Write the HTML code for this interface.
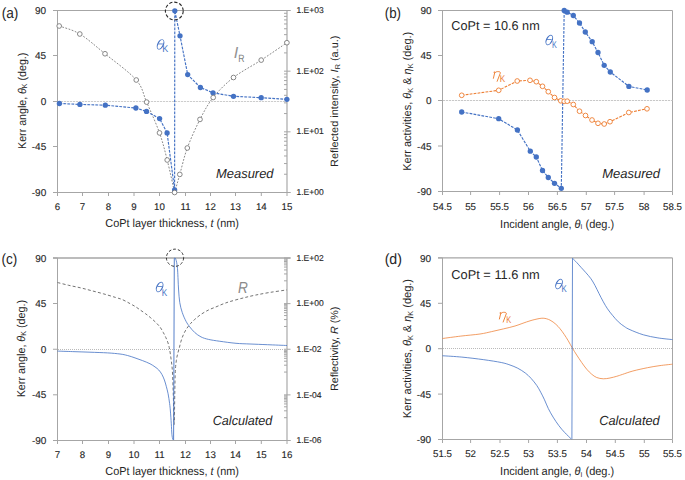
<!DOCTYPE html>
<html><head><meta charset="utf-8"><style>
html,body{margin:0;padding:0;background:#fff;}
svg{display:block;}
text{font-family:"Liberation Sans", sans-serif;text-rendering:geometricPrecision;}
</style></head><body>
<svg width="685" height="480" viewBox="0 0 685 480">
<rect width="685" height="480" fill="#fff"/>
<line x1="53.0" y1="10.5" x2="290.5" y2="10.5" stroke="#a6a6a6" stroke-width="1.0" />
<line x1="57.5" y1="10.5" x2="57.5" y2="192.5" stroke="#a6a6a6" stroke-width="1" />
<line x1="53.0" y1="10.5" x2="57.5" y2="10.5" stroke="#a6a6a6" stroke-width="1" />
<line x1="53.0" y1="55.5" x2="57.5" y2="55.5" stroke="#a6a6a6" stroke-width="1" />
<line x1="53.0" y1="101.5" x2="57.5" y2="101.5" stroke="#a6a6a6" stroke-width="1" />
<line x1="53.0" y1="146.5" x2="57.5" y2="146.5" stroke="#a6a6a6" stroke-width="1" />
<line x1="53.0" y1="192.5" x2="57.5" y2="192.5" stroke="#a6a6a6" stroke-width="1" />
<line x1="53.0" y1="192.5" x2="290.5" y2="192.5" stroke="#a6a6a6" stroke-width="1" />
<line x1="57.5" y1="192.5" x2="57.5" y2="196.0" stroke="#a6a6a6" stroke-width="1" />
<line x1="82.5" y1="192.5" x2="82.5" y2="196.0" stroke="#a6a6a6" stroke-width="1" />
<line x1="108.5" y1="192.5" x2="108.5" y2="196.0" stroke="#a6a6a6" stroke-width="1" />
<line x1="134.0" y1="192.5" x2="134.0" y2="196.0" stroke="#a6a6a6" stroke-width="1" />
<line x1="159.5" y1="192.5" x2="159.5" y2="196.0" stroke="#a6a6a6" stroke-width="1" />
<line x1="185.5" y1="192.5" x2="185.5" y2="196.0" stroke="#a6a6a6" stroke-width="1" />
<line x1="210.5" y1="192.5" x2="210.5" y2="196.0" stroke="#a6a6a6" stroke-width="1" />
<line x1="235.5" y1="192.5" x2="235.5" y2="196.0" stroke="#a6a6a6" stroke-width="1" />
<line x1="261.3" y1="192.5" x2="261.3" y2="196.0" stroke="#a6a6a6" stroke-width="1" />
<line x1="287.0" y1="192.5" x2="287.0" y2="196.0" stroke="#a6a6a6" stroke-width="1" />
<line x1="287.0" y1="10.5" x2="287.0" y2="192.5" stroke="#a6a6a6" stroke-width="1.15" />
<line x1="284.0" y1="174.23751359638516" x2="287.0" y2="174.23751359638516" stroke="#a6a6a6" stroke-width="1" />
<line x1="284.0" y1="163.55464388034048" x2="287.0" y2="163.55464388034048" stroke="#a6a6a6" stroke-width="1" />
<line x1="284.0" y1="155.97502719277028" x2="287.0" y2="155.97502719277028" stroke="#a6a6a6" stroke-width="1" />
<line x1="284.0" y1="150.0958197369482" x2="287.0" y2="150.0958197369482" stroke="#a6a6a6" stroke-width="1" />
<line x1="284.0" y1="145.2921574767256" x2="287.0" y2="145.2921574767256" stroke="#a6a6a6" stroke-width="1" />
<line x1="284.0" y1="141.23071890580175" x2="287.0" y2="141.23071890580175" stroke="#a6a6a6" stroke-width="1" />
<line x1="284.0" y1="137.7125407891554" x2="287.0" y2="137.7125407891554" stroke="#a6a6a6" stroke-width="1" />
<line x1="284.0" y1="134.60928776068096" x2="287.0" y2="134.60928776068096" stroke="#a6a6a6" stroke-width="1" />
<line x1="284.0" y1="113.57084692971848" x2="287.0" y2="113.57084692971848" stroke="#a6a6a6" stroke-width="1" />
<line x1="284.0" y1="102.88797721367382" x2="287.0" y2="102.88797721367382" stroke="#a6a6a6" stroke-width="1" />
<line x1="284.0" y1="95.30836052610363" x2="287.0" y2="95.30836052610363" stroke="#a6a6a6" stroke-width="1" />
<line x1="284.0" y1="89.42915307028153" x2="287.0" y2="89.42915307028153" stroke="#a6a6a6" stroke-width="1" />
<line x1="284.0" y1="84.62549081005896" x2="287.0" y2="84.62549081005896" stroke="#a6a6a6" stroke-width="1" />
<line x1="284.0" y1="80.5640522391351" x2="287.0" y2="80.5640522391351" stroke="#a6a6a6" stroke-width="1" />
<line x1="284.0" y1="77.04587412248877" x2="287.0" y2="77.04587412248877" stroke="#a6a6a6" stroke-width="1" />
<line x1="284.0" y1="73.9426210940143" x2="287.0" y2="73.9426210940143" stroke="#a6a6a6" stroke-width="1" />
<line x1="284.0" y1="52.90418026305181" x2="287.0" y2="52.90418026305181" stroke="#a6a6a6" stroke-width="1" />
<line x1="284.0" y1="42.22131054700715" x2="287.0" y2="42.22131054700715" stroke="#a6a6a6" stroke-width="1" />
<line x1="284.0" y1="34.641693859436955" x2="287.0" y2="34.641693859436955" stroke="#a6a6a6" stroke-width="1" />
<line x1="284.0" y1="28.762486403614865" x2="287.0" y2="28.762486403614865" stroke="#a6a6a6" stroke-width="1" />
<line x1="284.0" y1="23.95882414339229" x2="287.0" y2="23.95882414339229" stroke="#a6a6a6" stroke-width="1" />
<line x1="284.0" y1="19.89738557246843" x2="287.0" y2="19.89738557246843" stroke="#a6a6a6" stroke-width="1" />
<line x1="284.0" y1="16.379207455822097" x2="287.0" y2="16.379207455822097" stroke="#a6a6a6" stroke-width="1" />
<line x1="284.0" y1="13.275954427347628" x2="287.0" y2="13.275954427347628" stroke="#a6a6a6" stroke-width="1" />
<line x1="284.0" y1="192.5" x2="290.5" y2="192.5" stroke="#a6a6a6" stroke-width="1" />
<line x1="284.0" y1="131.83333333333334" x2="290.5" y2="131.83333333333334" stroke="#a6a6a6" stroke-width="1" />
<line x1="284.0" y1="71.16666666666667" x2="290.5" y2="71.16666666666667" stroke="#a6a6a6" stroke-width="1" />
<line x1="284.0" y1="10.5" x2="290.5" y2="10.5" stroke="#a6a6a6" stroke-width="1" />
<line x1="58" y1="101.5" x2="287.0" y2="101.5" stroke="#cdcdcd" stroke-width="1" stroke-dasharray="2.2 0.8"/>
<path d="M59.20,26.00 C62.63,27.33 72.17,29.38 79.80,34.00 C87.43,38.62 95.59,46.08 105.00,53.75 C114.41,61.42 129.32,71.94 136.25,80.00 C143.18,88.06 142.72,93.28 146.60,102.10 C150.47,110.92 156.07,123.25 159.50,132.90 C162.93,142.55 164.68,150.07 167.20,160.00 C169.72,169.93 173.37,187.08 174.60,192.50" fill="none" stroke="#6a6a6a" stroke-width="0.8" stroke-dasharray="1.8 1.5" stroke-linejoin="round" />
<path d="M174.60,192.50 C175.47,189.48 177.68,181.82 179.80,174.40 C181.92,166.98 183.93,157.17 187.30,148.00 C190.67,138.83 195.68,127.82 200.00,119.40 C204.32,110.98 207.62,104.48 213.20,97.50 C218.78,90.52 225.50,83.73 233.50,77.50 C241.50,71.27 252.30,65.90 261.20,60.10 C270.10,54.30 282.62,45.60 286.90,42.70" fill="none" stroke="#6a6a6a" stroke-width="0.8" stroke-dasharray="1.8 1.5" stroke-linejoin="round" />
<polyline points="59.40,103.50 79.90,104.40 105.30,105.20 135.90,108.00 146.50,111.40 159.60,118.60 167.10,132.90 174.60,189.90 174.80,10.80 180.00,35.80 187.70,74.60 200.40,87.50 213.00,92.80 233.50,96.30 261.20,97.70 286.90,99.30" fill="none" stroke="#4472C4" stroke-width="1.15" stroke-dasharray="2.8 1.2" stroke-linejoin="round" />
<circle cx="59.40" cy="103.50" r="2.65" fill="#4472C4"/>
<circle cx="79.90" cy="104.40" r="2.65" fill="#4472C4"/>
<circle cx="105.30" cy="105.20" r="2.65" fill="#4472C4"/>
<circle cx="135.90" cy="108.00" r="2.65" fill="#4472C4"/>
<circle cx="146.50" cy="111.40" r="2.65" fill="#4472C4"/>
<circle cx="159.60" cy="118.60" r="2.65" fill="#4472C4"/>
<circle cx="167.10" cy="132.90" r="2.65" fill="#4472C4"/>
<circle cx="174.60" cy="189.90" r="2.65" fill="#4472C4"/>
<circle cx="174.80" cy="10.80" r="2.65" fill="#4472C4"/>
<circle cx="180.00" cy="35.80" r="2.65" fill="#4472C4"/>
<circle cx="187.70" cy="74.60" r="2.65" fill="#4472C4"/>
<circle cx="200.40" cy="87.50" r="2.65" fill="#4472C4"/>
<circle cx="213.00" cy="92.80" r="2.65" fill="#4472C4"/>
<circle cx="233.50" cy="96.30" r="2.65" fill="#4472C4"/>
<circle cx="261.20" cy="97.70" r="2.65" fill="#4472C4"/>
<circle cx="286.90" cy="99.30" r="2.65" fill="#4472C4"/>
<circle cx="59.20" cy="26.00" r="2.35" fill="#fff" stroke="#7a7a7a" stroke-width="0.9"/>
<circle cx="79.80" cy="34.00" r="2.35" fill="#fff" stroke="#7a7a7a" stroke-width="0.9"/>
<circle cx="105.00" cy="53.75" r="2.35" fill="#fff" stroke="#7a7a7a" stroke-width="0.9"/>
<circle cx="136.25" cy="80.00" r="2.35" fill="#fff" stroke="#7a7a7a" stroke-width="0.9"/>
<circle cx="146.60" cy="102.10" r="2.35" fill="#fff" stroke="#7a7a7a" stroke-width="0.9"/>
<circle cx="159.50" cy="132.90" r="2.35" fill="#fff" stroke="#7a7a7a" stroke-width="0.9"/>
<circle cx="167.20" cy="160.00" r="2.35" fill="#fff" stroke="#7a7a7a" stroke-width="0.9"/>
<circle cx="174.60" cy="192.50" r="2.35" fill="#fff" stroke="#7a7a7a" stroke-width="0.9"/>
<circle cx="179.80" cy="174.40" r="2.35" fill="#fff" stroke="#7a7a7a" stroke-width="0.9"/>
<circle cx="187.30" cy="148.00" r="2.35" fill="#fff" stroke="#7a7a7a" stroke-width="0.9"/>
<circle cx="200.00" cy="119.40" r="2.35" fill="#fff" stroke="#7a7a7a" stroke-width="0.9"/>
<circle cx="213.20" cy="97.50" r="2.35" fill="#fff" stroke="#7a7a7a" stroke-width="0.9"/>
<circle cx="233.50" cy="77.50" r="2.35" fill="#fff" stroke="#7a7a7a" stroke-width="0.9"/>
<circle cx="261.20" cy="60.10" r="2.35" fill="#fff" stroke="#7a7a7a" stroke-width="0.9"/>
<circle cx="286.90" cy="42.70" r="2.35" fill="#fff" stroke="#7a7a7a" stroke-width="0.9"/>
<circle cx="174.3" cy="11" r="8.9" fill="none" stroke="#2a2a2a" stroke-width="1.1" stroke-dasharray="3.3 1.9"/>
<line x1="438.0" y1="10.5" x2="672.5" y2="10.5" stroke="#a6a6a6" stroke-width="1.0" />
<line x1="442.5" y1="10.5" x2="442.5" y2="191.5" stroke="#a6a6a6" stroke-width="1" />
<line x1="438.0" y1="10.5" x2="442.5" y2="10.5" stroke="#a6a6a6" stroke-width="1" />
<line x1="438.0" y1="55.5" x2="442.5" y2="55.5" stroke="#a6a6a6" stroke-width="1" />
<line x1="438.0" y1="100.5" x2="442.5" y2="100.5" stroke="#a6a6a6" stroke-width="1" />
<line x1="438.0" y1="146" x2="442.5" y2="146" stroke="#a6a6a6" stroke-width="1" />
<line x1="438.0" y1="191.5" x2="442.5" y2="191.5" stroke="#a6a6a6" stroke-width="1" />
<line x1="438.0" y1="191.5" x2="672.5" y2="191.5" stroke="#a6a6a6" stroke-width="1" />
<line x1="442.5" y1="191.5" x2="442.5" y2="195.0" stroke="#a6a6a6" stroke-width="1" />
<line x1="470.6" y1="191.5" x2="470.6" y2="195.0" stroke="#a6a6a6" stroke-width="1" />
<line x1="499.6" y1="191.5" x2="499.6" y2="195.0" stroke="#a6a6a6" stroke-width="1" />
<line x1="528.5" y1="191.5" x2="528.5" y2="195.0" stroke="#a6a6a6" stroke-width="1" />
<line x1="557.4" y1="191.5" x2="557.4" y2="195.0" stroke="#a6a6a6" stroke-width="1" />
<line x1="586.3" y1="191.5" x2="586.3" y2="195.0" stroke="#a6a6a6" stroke-width="1" />
<line x1="614.6" y1="191.5" x2="614.6" y2="195.0" stroke="#a6a6a6" stroke-width="1" />
<line x1="644.1" y1="191.5" x2="644.1" y2="195.0" stroke="#a6a6a6" stroke-width="1" />
<line x1="672.5" y1="191.5" x2="672.5" y2="195.0" stroke="#a6a6a6" stroke-width="1" />
<line x1="672.5" y1="10.5" x2="672.5" y2="191.5" stroke="#a6a6a6" stroke-width="1.0" />
<line x1="443" y1="100.5" x2="672.5" y2="100.5" stroke="#c8c8c8" stroke-width="1" stroke-dasharray="2.2 0.8"/>
<polyline points="461.70,95.30 498.70,90.30 517.20,81.00 530.00,80.30 536.30,81.70 542.50,86.30 548.30,91.70 554.50,97.50 560.80,100.80 564.20,101.30 567.20,101.20 573.30,104.50 579.50,111.20 585.50,115.50 592.00,120.00 598.00,123.30 604.20,124.00 610.00,121.70 628.80,112.50 647.00,108.80" fill="none" stroke="#ED7D31" stroke-width="1.05" stroke-dasharray="2.8 1.2" stroke-linejoin="round" />
<polyline points="461.70,112.00 498.70,118.70 517.40,130.00 530.30,151.20 536.30,157.00 542.50,170.50 548.30,177.50 554.50,183.30 561.30,188.30 564.20,10.50 567.20,12.20 573.30,15.50 579.50,23.00 585.30,32.00 592.20,41.70 598.00,52.50 604.20,65.30 610.30,72.00 628.90,86.40 647.20,90.00" fill="none" stroke="#4472C4" stroke-width="1.15" stroke-dasharray="2.8 1.2" stroke-linejoin="round" />
<circle cx="461.70" cy="95.30" r="2.35" fill="#fff" stroke="#ED7D31" stroke-width="0.9"/>
<circle cx="498.70" cy="90.30" r="2.35" fill="#fff" stroke="#ED7D31" stroke-width="0.9"/>
<circle cx="517.20" cy="81.00" r="2.35" fill="#fff" stroke="#ED7D31" stroke-width="0.9"/>
<circle cx="530.00" cy="80.30" r="2.35" fill="#fff" stroke="#ED7D31" stroke-width="0.9"/>
<circle cx="536.30" cy="81.70" r="2.35" fill="#fff" stroke="#ED7D31" stroke-width="0.9"/>
<circle cx="542.50" cy="86.30" r="2.35" fill="#fff" stroke="#ED7D31" stroke-width="0.9"/>
<circle cx="548.30" cy="91.70" r="2.35" fill="#fff" stroke="#ED7D31" stroke-width="0.9"/>
<circle cx="554.50" cy="97.50" r="2.35" fill="#fff" stroke="#ED7D31" stroke-width="0.9"/>
<circle cx="560.80" cy="100.80" r="2.35" fill="#fff" stroke="#ED7D31" stroke-width="0.9"/>
<circle cx="564.20" cy="101.30" r="2.35" fill="#fff" stroke="#ED7D31" stroke-width="0.9"/>
<circle cx="567.20" cy="101.20" r="2.35" fill="#fff" stroke="#ED7D31" stroke-width="0.9"/>
<circle cx="573.30" cy="104.50" r="2.35" fill="#fff" stroke="#ED7D31" stroke-width="0.9"/>
<circle cx="579.50" cy="111.20" r="2.35" fill="#fff" stroke="#ED7D31" stroke-width="0.9"/>
<circle cx="585.50" cy="115.50" r="2.35" fill="#fff" stroke="#ED7D31" stroke-width="0.9"/>
<circle cx="592.00" cy="120.00" r="2.35" fill="#fff" stroke="#ED7D31" stroke-width="0.9"/>
<circle cx="598.00" cy="123.30" r="2.35" fill="#fff" stroke="#ED7D31" stroke-width="0.9"/>
<circle cx="604.20" cy="124.00" r="2.35" fill="#fff" stroke="#ED7D31" stroke-width="0.9"/>
<circle cx="610.00" cy="121.70" r="2.35" fill="#fff" stroke="#ED7D31" stroke-width="0.9"/>
<circle cx="628.80" cy="112.50" r="2.35" fill="#fff" stroke="#ED7D31" stroke-width="0.9"/>
<circle cx="647.00" cy="108.80" r="2.35" fill="#fff" stroke="#ED7D31" stroke-width="0.9"/>
<circle cx="461.70" cy="112.00" r="2.65" fill="#4472C4"/>
<circle cx="498.70" cy="118.70" r="2.65" fill="#4472C4"/>
<circle cx="517.40" cy="130.00" r="2.65" fill="#4472C4"/>
<circle cx="530.30" cy="151.20" r="2.65" fill="#4472C4"/>
<circle cx="536.30" cy="157.00" r="2.65" fill="#4472C4"/>
<circle cx="542.50" cy="170.50" r="2.65" fill="#4472C4"/>
<circle cx="548.30" cy="177.50" r="2.65" fill="#4472C4"/>
<circle cx="554.50" cy="183.30" r="2.65" fill="#4472C4"/>
<circle cx="561.30" cy="188.30" r="2.65" fill="#4472C4"/>
<circle cx="564.20" cy="10.50" r="2.65" fill="#4472C4"/>
<circle cx="567.20" cy="12.20" r="2.65" fill="#4472C4"/>
<circle cx="573.30" cy="15.50" r="2.65" fill="#4472C4"/>
<circle cx="579.50" cy="23.00" r="2.65" fill="#4472C4"/>
<circle cx="585.30" cy="32.00" r="2.65" fill="#4472C4"/>
<circle cx="592.20" cy="41.70" r="2.65" fill="#4472C4"/>
<circle cx="598.00" cy="52.50" r="2.65" fill="#4472C4"/>
<circle cx="604.20" cy="65.30" r="2.65" fill="#4472C4"/>
<circle cx="610.30" cy="72.00" r="2.65" fill="#4472C4"/>
<circle cx="628.90" cy="86.40" r="2.65" fill="#4472C4"/>
<circle cx="647.20" cy="90.00" r="2.65" fill="#4472C4"/>
<line x1="53.0" y1="258.0" x2="290.5" y2="258.0" stroke="#a6a6a6" stroke-width="1.3" />
<line x1="57.5" y1="258.0" x2="57.5" y2="440.5" stroke="#a6a6a6" stroke-width="1" />
<line x1="53.0" y1="258.0" x2="57.5" y2="258.0" stroke="#a6a6a6" stroke-width="1" />
<line x1="53.0" y1="303.5" x2="57.5" y2="303.5" stroke="#a6a6a6" stroke-width="1" />
<line x1="53.0" y1="349.25" x2="57.5" y2="349.25" stroke="#a6a6a6" stroke-width="1" />
<line x1="53.0" y1="394.8" x2="57.5" y2="394.8" stroke="#a6a6a6" stroke-width="1" />
<line x1="53.0" y1="440.5" x2="57.5" y2="440.5" stroke="#a6a6a6" stroke-width="1" />
<line x1="53.0" y1="440.5" x2="290.5" y2="440.5" stroke="#a6a6a6" stroke-width="1" />
<line x1="57.5" y1="440.5" x2="57.5" y2="444.0" stroke="#a6a6a6" stroke-width="1" />
<line x1="82.5" y1="440.5" x2="82.5" y2="444.0" stroke="#a6a6a6" stroke-width="1" />
<line x1="108.5" y1="440.5" x2="108.5" y2="444.0" stroke="#a6a6a6" stroke-width="1" />
<line x1="134.0" y1="440.5" x2="134.0" y2="444.0" stroke="#a6a6a6" stroke-width="1" />
<line x1="159.5" y1="440.5" x2="159.5" y2="444.0" stroke="#a6a6a6" stroke-width="1" />
<line x1="185.5" y1="440.5" x2="185.5" y2="444.0" stroke="#a6a6a6" stroke-width="1" />
<line x1="210.5" y1="440.5" x2="210.5" y2="444.0" stroke="#a6a6a6" stroke-width="1" />
<line x1="235.5" y1="440.5" x2="235.5" y2="444.0" stroke="#a6a6a6" stroke-width="1" />
<line x1="261.3" y1="440.5" x2="261.3" y2="444.0" stroke="#a6a6a6" stroke-width="1" />
<line x1="287.0" y1="440.5" x2="287.0" y2="444.0" stroke="#a6a6a6" stroke-width="1" />
<line x1="287.0" y1="258.0" x2="287.0" y2="440.5" stroke="#a6a6a6" stroke-width="1.15" />
<line x1="284.0" y1="417.6875" x2="287.0" y2="417.6875" stroke="#a6a6a6" stroke-width="1" />
<line x1="284.0" y1="410.8202532239154" x2="287.0" y2="410.8202532239154" stroke="#a6a6a6" stroke-width="1" />
<line x1="284.0" y1="406.8031713767077" x2="287.0" y2="406.8031713767077" stroke="#a6a6a6" stroke-width="1" />
<line x1="284.0" y1="403.95300644783083" x2="287.0" y2="403.95300644783083" stroke="#a6a6a6" stroke-width="1" />
<line x1="284.0" y1="401.7422467760846" x2="287.0" y2="401.7422467760846" stroke="#a6a6a6" stroke-width="1" />
<line x1="284.0" y1="399.93592460062314" x2="287.0" y2="399.93592460062314" stroke="#a6a6a6" stroke-width="1" />
<line x1="284.0" y1="398.40870096217475" x2="287.0" y2="398.40870096217475" stroke="#a6a6a6" stroke-width="1" />
<line x1="284.0" y1="397.0857596717463" x2="287.0" y2="397.0857596717463" stroke="#a6a6a6" stroke-width="1" />
<line x1="284.0" y1="395.9188427534154" x2="287.0" y2="395.9188427534154" stroke="#a6a6a6" stroke-width="1" />
<line x1="284.0" y1="372.0625" x2="287.0" y2="372.0625" stroke="#a6a6a6" stroke-width="1" />
<line x1="284.0" y1="365.1952532239154" x2="287.0" y2="365.1952532239154" stroke="#a6a6a6" stroke-width="1" />
<line x1="284.0" y1="361.1781713767077" x2="287.0" y2="361.1781713767077" stroke="#a6a6a6" stroke-width="1" />
<line x1="284.0" y1="358.32800644783083" x2="287.0" y2="358.32800644783083" stroke="#a6a6a6" stroke-width="1" />
<line x1="284.0" y1="356.1172467760846" x2="287.0" y2="356.1172467760846" stroke="#a6a6a6" stroke-width="1" />
<line x1="284.0" y1="354.31092460062314" x2="287.0" y2="354.31092460062314" stroke="#a6a6a6" stroke-width="1" />
<line x1="284.0" y1="352.78370096217475" x2="287.0" y2="352.78370096217475" stroke="#a6a6a6" stroke-width="1" />
<line x1="284.0" y1="351.4607596717463" x2="287.0" y2="351.4607596717463" stroke="#a6a6a6" stroke-width="1" />
<line x1="284.0" y1="350.2938427534154" x2="287.0" y2="350.2938427534154" stroke="#a6a6a6" stroke-width="1" />
<line x1="284.0" y1="326.4375" x2="287.0" y2="326.4375" stroke="#a6a6a6" stroke-width="1" />
<line x1="284.0" y1="319.5702532239154" x2="287.0" y2="319.5702532239154" stroke="#a6a6a6" stroke-width="1" />
<line x1="284.0" y1="315.5531713767077" x2="287.0" y2="315.5531713767077" stroke="#a6a6a6" stroke-width="1" />
<line x1="284.0" y1="312.70300644783083" x2="287.0" y2="312.70300644783083" stroke="#a6a6a6" stroke-width="1" />
<line x1="284.0" y1="310.4922467760846" x2="287.0" y2="310.4922467760846" stroke="#a6a6a6" stroke-width="1" />
<line x1="284.0" y1="308.68592460062314" x2="287.0" y2="308.68592460062314" stroke="#a6a6a6" stroke-width="1" />
<line x1="284.0" y1="307.15870096217475" x2="287.0" y2="307.15870096217475" stroke="#a6a6a6" stroke-width="1" />
<line x1="284.0" y1="305.8357596717463" x2="287.0" y2="305.8357596717463" stroke="#a6a6a6" stroke-width="1" />
<line x1="284.0" y1="304.6688427534154" x2="287.0" y2="304.6688427534154" stroke="#a6a6a6" stroke-width="1" />
<line x1="284.0" y1="280.8125" x2="287.0" y2="280.8125" stroke="#a6a6a6" stroke-width="1" />
<line x1="284.0" y1="273.9452532239154" x2="287.0" y2="273.9452532239154" stroke="#a6a6a6" stroke-width="1" />
<line x1="284.0" y1="269.9281713767077" x2="287.0" y2="269.9281713767077" stroke="#a6a6a6" stroke-width="1" />
<line x1="284.0" y1="267.07800644783083" x2="287.0" y2="267.07800644783083" stroke="#a6a6a6" stroke-width="1" />
<line x1="284.0" y1="264.8672467760846" x2="287.0" y2="264.8672467760846" stroke="#a6a6a6" stroke-width="1" />
<line x1="284.0" y1="263.06092460062314" x2="287.0" y2="263.06092460062314" stroke="#a6a6a6" stroke-width="1" />
<line x1="284.0" y1="261.53370096217475" x2="287.0" y2="261.53370096217475" stroke="#a6a6a6" stroke-width="1" />
<line x1="284.0" y1="260.2107596717463" x2="287.0" y2="260.2107596717463" stroke="#a6a6a6" stroke-width="1" />
<line x1="284.0" y1="259.0438427534154" x2="287.0" y2="259.0438427534154" stroke="#a6a6a6" stroke-width="1" />
<line x1="284.0" y1="440.5" x2="290.5" y2="440.5" stroke="#a6a6a6" stroke-width="1" />
<line x1="284.0" y1="394.875" x2="290.5" y2="394.875" stroke="#a6a6a6" stroke-width="1" />
<line x1="284.0" y1="349.25" x2="290.5" y2="349.25" stroke="#a6a6a6" stroke-width="1" />
<line x1="284.0" y1="303.625" x2="290.5" y2="303.625" stroke="#a6a6a6" stroke-width="1" />
<line x1="284.0" y1="258.0" x2="290.5" y2="258.0" stroke="#a6a6a6" stroke-width="1" />
<line x1="58" y1="349.5" x2="287.0" y2="349.5" stroke="#bababa" stroke-width="1" stroke-dasharray="1 1"/>
<path d="M57.50,282.50 C59.37,282.97 64.88,284.42 68.70,285.30 C72.52,286.18 76.52,286.88 80.40,287.80 C84.28,288.72 88.12,289.78 92.00,290.80 C95.88,291.82 99.80,292.80 103.70,293.90 C107.60,295.00 112.28,296.45 115.40,297.40 C118.52,298.35 119.97,298.57 122.40,299.60 C124.83,300.63 127.87,302.45 130.00,303.60 C132.13,304.75 133.47,305.42 135.20,306.50 C136.93,307.58 138.67,308.89 140.40,310.10 C142.13,311.31 143.87,312.45 145.60,313.75 C147.33,315.05 149.07,316.42 150.80,317.90 C152.53,319.38 154.43,321.03 156.00,322.60 C157.57,324.17 158.98,325.65 160.20,327.30 C161.42,328.95 162.35,330.77 163.30,332.50 C164.25,334.23 165.12,335.97 165.90,337.70 C166.68,339.43 167.38,340.95 168.00,342.90 C168.62,344.85 169.05,346.42 169.60,349.40 C170.15,352.38 170.83,357.16 171.30,360.80 C171.77,364.44 172.08,366.05 172.40,371.25 C172.72,376.45 172.97,385.04 173.20,392.00 C173.43,398.96 173.63,407.58 173.80,413.00 C173.97,418.42 174.08,424.50 174.20,424.50 C174.32,424.50 174.40,418.42 174.50,413.00 C174.60,407.58 174.67,398.96 174.80,392.00 C174.93,385.04 175.05,376.45 175.30,371.25 C175.55,366.05 175.92,363.68 176.30,360.80 C176.68,357.93 177.13,356.01 177.60,354.00 C178.07,351.99 178.53,350.88 179.10,348.75 C179.67,346.62 180.27,343.64 181.00,341.25 C181.73,338.86 182.57,336.48 183.50,334.40 C184.43,332.32 185.45,330.52 186.60,328.75 C187.75,326.98 189.04,325.31 190.40,323.75 C191.76,322.19 192.98,320.96 194.75,319.40 C196.52,317.84 198.71,315.97 201.00,314.40 C203.29,312.83 206.00,311.25 208.50,310.00 C211.00,308.75 213.50,307.94 216.00,306.90 C218.50,305.86 221.00,304.69 223.50,303.75 C226.00,302.81 227.75,302.21 231.00,301.25 C234.25,300.29 239.00,299.01 243.00,298.00 C247.00,296.99 250.50,296.13 255.00,295.20 C259.50,294.27 264.67,293.28 270.00,292.40 C275.33,291.52 284.17,290.32 287.00,289.90" fill="none" stroke="#737373" stroke-width="1.0" stroke-dasharray="3 2.2" stroke-linejoin="round" />
<path d="M57.50,351.10 C60.00,351.18 67.08,351.42 72.50,351.60 C77.92,351.78 84.15,351.98 90.00,352.20 C95.85,352.42 102.60,352.60 107.60,352.90 C112.60,353.20 116.68,353.57 120.00,354.00 C123.32,354.43 125.00,354.85 127.50,355.50 C130.00,356.15 132.50,357.05 135.00,357.90 C137.50,358.75 140.00,359.62 142.50,360.60 C145.00,361.58 147.92,362.70 150.00,363.75 C152.08,364.80 153.54,365.86 155.00,366.90 C156.46,367.94 157.60,368.75 158.75,370.00 C159.90,371.25 160.96,372.73 161.90,374.40 C162.84,376.07 163.68,378.02 164.40,380.00 C165.12,381.98 165.63,383.96 166.25,386.25 C166.87,388.54 167.54,390.88 168.10,393.75 C168.66,396.62 169.22,400.62 169.60,403.50 C169.98,406.38 170.12,407.62 170.40,411.00 C170.68,414.38 171.05,419.93 171.30,423.80 C171.55,427.67 171.67,431.57 171.90,434.20 C172.13,436.83 172.57,438.70 172.70,439.60" fill="none" stroke="#4472C4" stroke-width="0.8" stroke-linejoin="round" />
<line x1="173.6" y1="440.0" x2="174.3" y2="258.4" stroke="#4472C4" stroke-width="0.9" />
<path d="M174.30,258.40 C174.45,258.35 174.88,257.75 175.20,258.10 C175.52,258.45 175.90,259.43 176.20,260.50 C176.50,261.57 176.77,262.92 177.00,264.50 C177.23,266.08 177.42,267.42 177.60,270.00 C177.78,272.58 177.93,276.67 178.10,280.00 C178.27,283.33 178.32,286.25 178.60,290.00 C178.88,293.75 179.14,298.75 179.75,302.50 C180.36,306.25 181.21,309.38 182.25,312.50 C183.29,315.62 184.75,318.85 186.00,321.25 C187.25,323.65 188.29,325.02 189.75,326.90 C191.21,328.77 192.88,330.83 194.75,332.50 C196.62,334.17 198.71,335.75 201.00,336.90 C203.29,338.05 205.38,338.67 208.50,339.40 C211.62,340.12 215.17,340.60 219.75,341.25 C224.33,341.90 230.96,342.84 236.00,343.30 C241.04,343.76 244.75,343.77 250.00,344.00 C255.25,344.23 261.33,344.45 267.50,344.70 C273.67,344.95 283.75,345.37 287.00,345.50" fill="none" stroke="#4472C4" stroke-width="0.8" stroke-linejoin="round" />
<circle cx="175" cy="257.75" r="8.6" fill="none" stroke="#2a2a2a" stroke-width="0.95" stroke-dasharray="2.8 2"/>
<line x1="438.0" y1="257.9" x2="672.5" y2="257.9" stroke="#a6a6a6" stroke-width="1.3" />
<line x1="442.5" y1="257.9" x2="442.5" y2="439.5" stroke="#a6a6a6" stroke-width="1" />
<line x1="438.0" y1="257.9" x2="442.5" y2="257.9" stroke="#a6a6a6" stroke-width="1" />
<line x1="438.0" y1="303.3" x2="442.5" y2="303.3" stroke="#a6a6a6" stroke-width="1" />
<line x1="438.0" y1="348.7" x2="442.5" y2="348.7" stroke="#a6a6a6" stroke-width="1" />
<line x1="438.0" y1="394.1" x2="442.5" y2="394.1" stroke="#a6a6a6" stroke-width="1" />
<line x1="438.0" y1="439.5" x2="442.5" y2="439.5" stroke="#a6a6a6" stroke-width="1" />
<line x1="438.0" y1="439.5" x2="672.5" y2="439.5" stroke="#a6a6a6" stroke-width="1" />
<line x1="442.5" y1="439.5" x2="442.5" y2="443.0" stroke="#a6a6a6" stroke-width="1" />
<line x1="470.6" y1="439.5" x2="470.6" y2="443.0" stroke="#a6a6a6" stroke-width="1" />
<line x1="500.0" y1="439.5" x2="500.0" y2="443.0" stroke="#a6a6a6" stroke-width="1" />
<line x1="528.6" y1="439.5" x2="528.6" y2="443.0" stroke="#a6a6a6" stroke-width="1" />
<line x1="557.4" y1="439.5" x2="557.4" y2="443.0" stroke="#a6a6a6" stroke-width="1" />
<line x1="586.5" y1="439.5" x2="586.5" y2="443.0" stroke="#a6a6a6" stroke-width="1" />
<line x1="615.3" y1="439.5" x2="615.3" y2="443.0" stroke="#a6a6a6" stroke-width="1" />
<line x1="644.3" y1="439.5" x2="644.3" y2="443.0" stroke="#a6a6a6" stroke-width="1" />
<line x1="672.5" y1="439.5" x2="672.5" y2="443.0" stroke="#a6a6a6" stroke-width="1" />
<line x1="672.5" y1="257.9" x2="672.5" y2="439.5" stroke="#a6a6a6" stroke-width="1.0" />
<line x1="443" y1="348.5" x2="672.5" y2="348.5" stroke="#bababa" stroke-width="1" stroke-dasharray="1 1"/>
<path d="M442.50,338.50 C445.55,338.10 454.55,336.85 460.80,336.10 C467.05,335.35 474.85,334.75 480.00,334.00 C485.15,333.25 487.80,332.45 491.70,331.60 C495.60,330.75 499.52,329.83 503.40,328.90 C507.28,327.97 511.12,327.17 515.00,326.00 C518.88,324.83 523.38,322.98 526.70,321.90 C530.02,320.82 532.17,320.12 534.90,319.50 C537.63,318.88 540.58,318.10 543.10,318.20 C545.62,318.30 547.87,319.08 550.00,320.10 C552.13,321.12 554.23,322.87 555.90,324.30 C557.57,325.73 558.62,327.02 560.00,328.70 C561.38,330.38 562.82,332.37 564.20,334.40 C565.58,336.43 566.92,338.58 568.30,340.90 C569.68,343.22 571.10,345.95 572.50,348.30 C573.90,350.65 575.17,352.63 576.70,355.00 C578.23,357.37 580.03,360.13 581.70,362.50 C583.37,364.87 585.03,367.25 586.70,369.20 C588.37,371.15 590.03,372.82 591.70,374.20 C593.37,375.58 594.77,376.73 596.70,377.50 C598.63,378.27 601.08,378.72 603.30,378.80 C605.52,378.88 607.77,378.42 610.00,378.00 C612.23,377.58 614.62,376.90 616.70,376.30 C618.78,375.70 619.80,375.28 622.50,374.40 C625.20,373.52 628.73,372.12 632.90,371.00 C637.07,369.88 642.98,368.60 647.50,367.70 C652.02,366.80 655.83,366.18 660.00,365.60 C664.17,365.02 670.42,364.43 672.50,364.20" fill="none" stroke="#ED7D31" stroke-width="0.75" stroke-linejoin="round" />
<path d="M442.50,355.75 C445.73,355.98 455.02,356.44 461.90,357.10 C468.77,357.76 477.19,358.80 483.75,359.70 C490.31,360.60 496.88,361.62 501.25,362.50 C505.62,363.38 507.26,364.05 510.00,365.00 C512.74,365.95 515.15,366.87 517.70,368.20 C520.25,369.53 523.07,371.30 525.30,373.00 C527.53,374.70 529.18,376.32 531.10,378.40 C533.02,380.48 535.20,383.20 536.80,385.50 C538.40,387.80 539.42,389.82 540.70,392.20 C541.98,394.58 543.23,397.08 544.50,399.80 C545.77,402.52 546.87,405.62 548.30,408.50 C549.73,411.38 551.33,414.23 553.10,417.10 C554.87,419.97 556.98,423.15 558.90,425.70 C560.82,428.25 562.55,430.20 564.60,432.40 C566.65,434.60 570.10,437.82 571.20,438.90" fill="none" stroke="#4472C4" stroke-width="0.8" stroke-linejoin="round" />
<line x1="571.9" y1="439.2" x2="572.5" y2="258.3" stroke="#4472C4" stroke-width="0.8" />
<path d="M572.50,258.30 C573.22,259.02 575.38,261.10 576.80,262.60 C578.22,264.10 579.47,265.60 581.00,267.30 C582.53,269.00 584.33,270.88 586.00,272.80 C587.67,274.72 589.50,276.68 591.00,278.80 C592.50,280.92 593.67,283.05 595.00,285.50 C596.33,287.95 597.62,290.78 599.00,293.50 C600.38,296.22 601.88,299.25 603.30,301.80 C604.72,304.35 605.97,306.55 607.50,308.80 C609.03,311.05 610.70,313.13 612.50,315.30 C614.30,317.47 616.35,319.95 618.30,321.80 C620.25,323.65 622.25,325.08 624.20,326.40 C626.15,327.72 626.82,328.30 630.00,329.70 C633.18,331.10 638.65,333.43 643.30,334.80 C647.95,336.17 653.03,337.10 657.90,337.90 C662.77,338.70 670.07,339.32 672.50,339.60" fill="none" stroke="#4472C4" stroke-width="0.8" stroke-linejoin="round" />
<text id="pa" x="1.63" y="17.5" font-size="15" fill="#262626" textLength="16.73" lengthAdjust="spacingAndGlyphs">(a)</text>
<text id="pb" x="384.7" y="17.5" font-size="15" fill="#262626" textLength="16.30" lengthAdjust="spacingAndGlyphs">(b)</text>
<text id="pc" x="1.62" y="263.75" font-size="15" fill="#262626" textLength="15.75" lengthAdjust="spacingAndGlyphs">(c)</text>
<text id="pd" x="384.65" y="263.75" font-size="15" fill="#262626" textLength="17.35" lengthAdjust="spacingAndGlyphs">(d)</text>
<text id="axt" x="105.3" y="227.3" font-size="11.6" fill="#262626" textLength="133.61" lengthAdjust="spacingAndGlyphs">CoPt layer thickness, <tspan font-style="italic">t</tspan> (nm)</text>
<text id="cxt" x="105.3" y="475.4" font-size="11.6" fill="#262626" textLength="133.61" lengthAdjust="spacingAndGlyphs">CoPt layer thickness, <tspan font-style="italic">t</tspan> (nm)</text>
<text id="bxt" x="500.09" y="227.9" font-size="11.6" fill="#262626" textLength="114.12" lengthAdjust="spacingAndGlyphs">Incident angle, <tspan font-style="italic">θ</tspan><tspan font-size="7" dy="1.5">I</tspan><tspan dy="-1.5"> (deg.)</tspan></text>
<text id="dxt" x="500.09" y="475.0" font-size="11.6" fill="#262626" textLength="114.12" lengthAdjust="spacingAndGlyphs">Incident angle, <tspan font-style="italic">θ</tspan><tspan font-size="7" dy="1.5">I</tspan><tspan dy="-1.5"> (deg.)</tspan></text>
<text id="ayt" x="25.91" y="148.92" font-size="11.4" fill="#262626" textLength="96.24" lengthAdjust="spacingAndGlyphs" transform="rotate(-90 25.91 148.92)">Kerr angle, <tspan font-style="italic">θ</tspan><tspan font-size="7.5" dy="1.5">K</tspan><tspan dy="-1.5"> (deg.)</tspan></text>
<text id="cyt" x="25.01" y="397.31" font-size="11.4" fill="#262626" textLength="97.42" lengthAdjust="spacingAndGlyphs" transform="rotate(-90 25.01 397.31)">Kerr angle, <tspan font-style="italic">θ</tspan><tspan font-size="7.5" dy="1.5">K</tspan><tspan dy="-1.5"> (deg.)</tspan></text>
<text id="byt" x="411.06" y="170.81" font-size="11.4" fill="#262626" textLength="139.11" lengthAdjust="spacingAndGlyphs" transform="rotate(-90 411.06 170.81)">Kerr activities, <tspan font-style="italic">θ</tspan><tspan font-size="7.5" dy="1.5">K</tspan><tspan dy="-1.5"> &amp; </tspan><tspan font-style="italic">η</tspan><tspan font-size="7.5" dy="1.5">K</tspan><tspan dy="-1.5"> (deg.)</tspan></text>
<text id="dyt" x="411.19" y="418.3" font-size="11.4" fill="#262626" textLength="139.31" lengthAdjust="spacingAndGlyphs" transform="rotate(-90 411.19 418.3)">Kerr activities, <tspan font-style="italic">θ</tspan><tspan font-size="7.5" dy="1.5">K</tspan><tspan dy="-1.5"> &amp; </tspan><tspan font-style="italic">η</tspan><tspan font-size="7.5" dy="1.5">K</tspan><tspan dy="-1.5"> (deg.)</tspan></text>
<text id="ayr" x="338.18" y="166.91" font-size="10.6" fill="#262626" textLength="131.31" lengthAdjust="spacingAndGlyphs" transform="rotate(-90 338.18 166.91)">Reflected intensity, <tspan font-style="italic">I</tspan><tspan font-size="7" dy="1.5">R</tspan><tspan dy="-1.5"> (a.u.)</tspan></text>
<text id="cyr" x="338.18" y="391.01" font-size="10.6" fill="#262626" textLength="84.33" lengthAdjust="spacingAndGlyphs" transform="rotate(-90 338.18 391.01)">Reflectivity, <tspan font-style="italic">R</tspan> (%)</text>
<text id="ameas" x="216.0" y="177.7" font-size="13.1" fill="#262626" font-style="italic" textLength="57.52" lengthAdjust="spacingAndGlyphs">Measured</text>
<text id="bmeas" x="602.19" y="177.6" font-size="13.1" fill="#262626" font-style="italic" textLength="57.82" lengthAdjust="spacingAndGlyphs">Measured</text>
<text id="ccalc" x="212.69" y="424.6" font-size="13.1" fill="#262626" font-style="italic" textLength="59.72" lengthAdjust="spacingAndGlyphs">Calculated</text>
<text id="dcalc" x="599.29" y="424.6" font-size="13.1" fill="#262626" font-style="italic" textLength="60.41" lengthAdjust="spacingAndGlyphs">Calculated</text>
<text id="bcopt" x="451.3" y="29.5" font-size="12.8" fill="#262626" textLength="88.41" lengthAdjust="spacingAndGlyphs">CoPt = 10.6 nm</text>
<text id="dcopt" x="451.3" y="278.5" font-size="12.8" fill="#262626" textLength="88.51" lengthAdjust="spacingAndGlyphs">CoPt = 11.6 nm</text>
<text id="athk" x="162.25" y="52.4" font-size="9.8" fill="#4472C4" textLength="5.98" lengthAdjust="spacingAndGlyphs">K</text>
<text id="bthk" x="552.0" y="47.9" font-size="9.8" fill="#4472C4" textLength="4.79" lengthAdjust="spacingAndGlyphs">K</text>
<text id="cthk" x="161.79" y="295.6" font-size="9.8" fill="#4472C4" textLength="5.45" lengthAdjust="spacingAndGlyphs">K</text>
<text id="dthk" x="561.55" y="291.8" font-size="9.8" fill="#4472C4" textLength="5.21" lengthAdjust="spacingAndGlyphs">K</text>
<text id="betak" x="499.86" y="81.9" font-size="9.8" fill="#ED7D31" textLength="5.45" lengthAdjust="spacingAndGlyphs">K</text>
<text id="detak" x="506.3" y="322.5" font-size="9.8" fill="#ED7D31" textLength="4.99" lengthAdjust="spacingAndGlyphs">K</text>
<text id="aI" x="233.65" y="57.6" font-size="15.93" fill="#939393" font-style="italic" textLength="4.50" lengthAdjust="spacingAndGlyphs">I</text>
<text id="aIR" x="238.27" y="61.89" font-size="10.64" fill="#7f7f7f" textLength="6.27" lengthAdjust="spacingAndGlyphs">R</text>
<text id="cR" x="238.0" y="292.73" font-size="16.09" fill="#8a8a8a" font-style="italic" textLength="9.88" lengthAdjust="spacingAndGlyphs">R</text>
<g transform="translate(160.54999999999998,44.4)" fill="#4472C4"><path d="M-3.3,0 A3.3,5.55 0 1,0 3.3,0 A3.3,5.55 0 1,0 -3.3,0 Z M-2.15,0 A2.15,4.85 0 1,0 2.15,0 A2.15,4.85 0 1,0 -2.15,0 Z" fill-rule="evenodd" transform="rotate(26)"/><rect x="-2.3" y="-0.85" width="4.6" height="0.7999999999999999"/></g>
<g transform="translate(549.3000000000001,40.0)" fill="#4472C4"><path d="M-3.3,0 A3.3,5.55 0 1,0 3.3,0 A3.3,5.55 0 1,0 -3.3,0 Z M-2.15,0 A2.15,4.85 0 1,0 2.15,0 A2.15,4.85 0 1,0 -2.15,0 Z" fill-rule="evenodd" transform="rotate(26)"/><rect x="-2.3" y="-0.85" width="4.6" height="0.7999999999999999"/></g>
<g transform="translate(159.64999999999998,287.05)" fill="#4472C4"><path d="M-3.3,0 A3.3,5.55 0 1,0 3.3,0 A3.3,5.55 0 1,0 -3.3,0 Z M-2.15,0 A2.15,4.85 0 1,0 2.15,0 A2.15,4.85 0 1,0 -2.15,0 Z" fill-rule="evenodd" transform="rotate(26)"/><rect x="-2.3" y="-0.85" width="4.6" height="0.7999999999999999"/></g>
<g transform="translate(559.0500000000001,284.0)" fill="#4472C4"><path d="M-3.3,0 A3.3,5.55 0 1,0 3.3,0 A3.3,5.55 0 1,0 -3.3,0 Z M-2.15,0 A2.15,4.85 0 1,0 2.15,0 A2.15,4.85 0 1,0 -2.15,0 Z" fill-rule="evenodd" transform="rotate(26)"/><rect x="-2.3" y="-0.85" width="4.6" height="0.7999999999999999"/></g>
<path d="M493.6,72.3 L494.9,71.9 L493.3,78.7 M494.7,73.2 C495.4,72.1 496.4,71.6 497.6,71.6 C499.3,71.6 500.6,71.8 500.3,73.1 L497.0,81.7" transform="translate(0,0)" fill="none" stroke="#ED7D31" stroke-width="0.95" stroke-linecap="butt" stroke-linejoin="round"/>
<path d="M493.6,72.3 L494.9,71.9 L493.3,78.7 M494.7,73.2 C495.4,72.1 496.4,71.6 497.6,71.6 C499.3,71.6 500.6,71.8 500.3,73.1 L497.0,81.7" transform="translate(6.0,240.7)" fill="none" stroke="#ED7D31" stroke-width="0.95" stroke-linecap="butt" stroke-linejoin="round"/>
<text x="46.20" y="13.98" font-size="10.0" fill="#262626" stroke="#262626" stroke-width="0.12" text-anchor="end">90</text>
<text x="46.20" y="59.18" font-size="10.0" fill="#262626" stroke="#262626" stroke-width="0.12" text-anchor="end">45</text>
<text x="46.20" y="104.98" font-size="10.0" fill="#262626" stroke="#262626" stroke-width="0.12" text-anchor="end">0</text>
<text x="46.20" y="150.28" font-size="10.0" fill="#262626" stroke="#262626" stroke-width="0.12" text-anchor="end">-45</text>
<text x="46.20" y="196.08" font-size="10.0" fill="#262626" stroke="#262626" stroke-width="0.12" text-anchor="end">-90</text>
<text x="46.40" y="261.88" font-size="10.0" fill="#262626" stroke="#262626" stroke-width="0.12" text-anchor="end">90</text>
<text x="46.40" y="307.18" font-size="10.0" fill="#262626" stroke="#262626" stroke-width="0.12" text-anchor="end">45</text>
<text x="46.40" y="352.78" font-size="10.0" fill="#262626" stroke="#262626" stroke-width="0.12" text-anchor="end">0</text>
<text x="46.40" y="398.08" font-size="10.0" fill="#262626" stroke="#262626" stroke-width="0.12" text-anchor="end">-45</text>
<text x="46.40" y="443.78" font-size="10.0" fill="#262626" stroke="#262626" stroke-width="0.12" text-anchor="end">-90</text>
<text x="431.50" y="13.98" font-size="10.0" fill="#262626" stroke="#262626" stroke-width="0.12" text-anchor="end">90</text>
<text x="431.50" y="58.98" font-size="10.0" fill="#262626" stroke="#262626" stroke-width="0.12" text-anchor="end">45</text>
<text x="431.50" y="104.08" font-size="10.0" fill="#262626" stroke="#262626" stroke-width="0.12" text-anchor="end">0</text>
<text x="431.50" y="149.58" font-size="10.0" fill="#262626" stroke="#262626" stroke-width="0.12" text-anchor="end">-45</text>
<text x="431.50" y="194.58" font-size="10.0" fill="#262626" stroke="#262626" stroke-width="0.12" text-anchor="end">-90</text>
<text x="431.10" y="261.88" font-size="10.0" fill="#262626" stroke="#262626" stroke-width="0.12" text-anchor="end">90</text>
<text x="431.10" y="306.88" font-size="10.0" fill="#262626" stroke="#262626" stroke-width="0.12" text-anchor="end">45</text>
<text x="431.10" y="352.38" font-size="10.0" fill="#262626" stroke="#262626" stroke-width="0.12" text-anchor="end">0</text>
<text x="431.10" y="397.78" font-size="10.0" fill="#262626" stroke="#262626" stroke-width="0.12" text-anchor="end">-45</text>
<text x="431.10" y="443.38" font-size="10.0" fill="#262626" stroke="#262626" stroke-width="0.12" text-anchor="end">-90</text>
<text x="57.50" y="210.17" font-size="9.7" fill="#262626" stroke="#262626" stroke-width="0.12" text-anchor="middle">6</text>
<text x="82.50" y="210.17" font-size="9.7" fill="#262626" stroke="#262626" stroke-width="0.12" text-anchor="middle">7</text>
<text x="108.50" y="210.17" font-size="9.7" fill="#262626" stroke="#262626" stroke-width="0.12" text-anchor="middle">8</text>
<text x="134.00" y="210.17" font-size="9.7" fill="#262626" stroke="#262626" stroke-width="0.12" text-anchor="middle">9</text>
<text x="159.50" y="210.17" font-size="9.7" fill="#262626" stroke="#262626" stroke-width="0.12" text-anchor="middle">10</text>
<text x="185.50" y="210.17" font-size="9.7" fill="#262626" stroke="#262626" stroke-width="0.12" text-anchor="middle">11</text>
<text x="210.50" y="210.17" font-size="9.7" fill="#262626" stroke="#262626" stroke-width="0.12" text-anchor="middle">12</text>
<text x="235.50" y="210.17" font-size="9.7" fill="#262626" stroke="#262626" stroke-width="0.12" text-anchor="middle">13</text>
<text x="261.30" y="210.17" font-size="9.7" fill="#262626" stroke="#262626" stroke-width="0.12" text-anchor="middle">14</text>
<text x="287.00" y="210.17" font-size="9.7" fill="#262626" stroke="#262626" stroke-width="0.12" text-anchor="middle">15</text>
<text x="57.50" y="458.17" font-size="9.7" fill="#262626" stroke="#262626" stroke-width="0.12" text-anchor="middle">7</text>
<text x="82.50" y="458.17" font-size="9.7" fill="#262626" stroke="#262626" stroke-width="0.12" text-anchor="middle">8</text>
<text x="108.50" y="458.17" font-size="9.7" fill="#262626" stroke="#262626" stroke-width="0.12" text-anchor="middle">9</text>
<text x="134.00" y="458.17" font-size="9.7" fill="#262626" stroke="#262626" stroke-width="0.12" text-anchor="middle">10</text>
<text x="159.50" y="458.17" font-size="9.7" fill="#262626" stroke="#262626" stroke-width="0.12" text-anchor="middle">11</text>
<text x="185.50" y="458.17" font-size="9.7" fill="#262626" stroke="#262626" stroke-width="0.12" text-anchor="middle">12</text>
<text x="210.50" y="458.17" font-size="9.7" fill="#262626" stroke="#262626" stroke-width="0.12" text-anchor="middle">13</text>
<text x="235.50" y="458.17" font-size="9.7" fill="#262626" stroke="#262626" stroke-width="0.12" text-anchor="middle">14</text>
<text x="261.30" y="458.17" font-size="9.7" fill="#262626" stroke="#262626" stroke-width="0.12" text-anchor="middle">15</text>
<text x="287.00" y="458.17" font-size="9.7" fill="#262626" stroke="#262626" stroke-width="0.12" text-anchor="middle">16</text>
<text x="442.50" y="209.57" font-size="9.7" fill="#262626" stroke="#262626" stroke-width="0.12" text-anchor="middle">54.5</text>
<text x="470.60" y="209.57" font-size="9.7" fill="#262626" stroke="#262626" stroke-width="0.12" text-anchor="middle">55</text>
<text x="499.60" y="209.57" font-size="9.7" fill="#262626" stroke="#262626" stroke-width="0.12" text-anchor="middle">55.5</text>
<text x="528.50" y="209.57" font-size="9.7" fill="#262626" stroke="#262626" stroke-width="0.12" text-anchor="middle">56</text>
<text x="557.40" y="209.57" font-size="9.7" fill="#262626" stroke="#262626" stroke-width="0.12" text-anchor="middle">56.5</text>
<text x="586.30" y="209.57" font-size="9.7" fill="#262626" stroke="#262626" stroke-width="0.12" text-anchor="middle">57</text>
<text x="614.60" y="209.57" font-size="9.7" fill="#262626" stroke="#262626" stroke-width="0.12" text-anchor="middle">57.5</text>
<text x="644.10" y="209.57" font-size="9.7" fill="#262626" stroke="#262626" stroke-width="0.12" text-anchor="middle">58</text>
<text x="672.50" y="209.57" font-size="9.7" fill="#262626" stroke="#262626" stroke-width="0.12" text-anchor="middle">58.5</text>
<text x="442.50" y="457.47" font-size="9.7" fill="#262626" stroke="#262626" stroke-width="0.12" text-anchor="middle">51.5</text>
<text x="470.60" y="457.47" font-size="9.7" fill="#262626" stroke="#262626" stroke-width="0.12" text-anchor="middle">52</text>
<text x="500.00" y="457.47" font-size="9.7" fill="#262626" stroke="#262626" stroke-width="0.12" text-anchor="middle">52.5</text>
<text x="528.60" y="457.47" font-size="9.7" fill="#262626" stroke="#262626" stroke-width="0.12" text-anchor="middle">53</text>
<text x="557.40" y="457.47" font-size="9.7" fill="#262626" stroke="#262626" stroke-width="0.12" text-anchor="middle">53.5</text>
<text x="586.50" y="457.47" font-size="9.7" fill="#262626" stroke="#262626" stroke-width="0.12" text-anchor="middle">54</text>
<text x="615.30" y="457.47" font-size="9.7" fill="#262626" stroke="#262626" stroke-width="0.12" text-anchor="middle">54.5</text>
<text x="644.30" y="457.47" font-size="9.7" fill="#262626" stroke="#262626" stroke-width="0.12" text-anchor="middle">55</text>
<text x="672.50" y="457.47" font-size="9.7" fill="#262626" stroke="#262626" stroke-width="0.12" text-anchor="middle">55.5</text>
<text x="296.50" y="13.04" font-size="8.5" fill="#262626" stroke="#262626" stroke-width="0.12" text-anchor="start">1.E+03</text>
<text x="296.50" y="73.71" font-size="8.5" fill="#262626" stroke="#262626" stroke-width="0.12" text-anchor="start">1.E+02</text>
<text x="296.50" y="134.38" font-size="8.5" fill="#262626" stroke="#262626" stroke-width="0.12" text-anchor="start">1.E+01</text>
<text x="296.50" y="195.04" font-size="8.5" fill="#262626" stroke="#262626" stroke-width="0.12" text-anchor="start">1.E+00</text>
<text x="296.50" y="260.74" font-size="8.5" fill="#262626" stroke="#262626" stroke-width="0.12" text-anchor="start">1.E+02</text>
<text x="296.50" y="306.37" font-size="8.5" fill="#262626" stroke="#262626" stroke-width="0.12" text-anchor="start">1.E+00</text>
<text x="296.50" y="351.99" font-size="8.5" fill="#262626" stroke="#262626" stroke-width="0.12" text-anchor="start">1.E-02</text>
<text x="296.50" y="397.62" font-size="8.5" fill="#262626" stroke="#262626" stroke-width="0.12" text-anchor="start">1.E-04</text>
<text x="296.50" y="443.24" font-size="8.5" fill="#262626" stroke="#262626" stroke-width="0.12" text-anchor="start">1.E-06</text>
</svg>
</body></html>
